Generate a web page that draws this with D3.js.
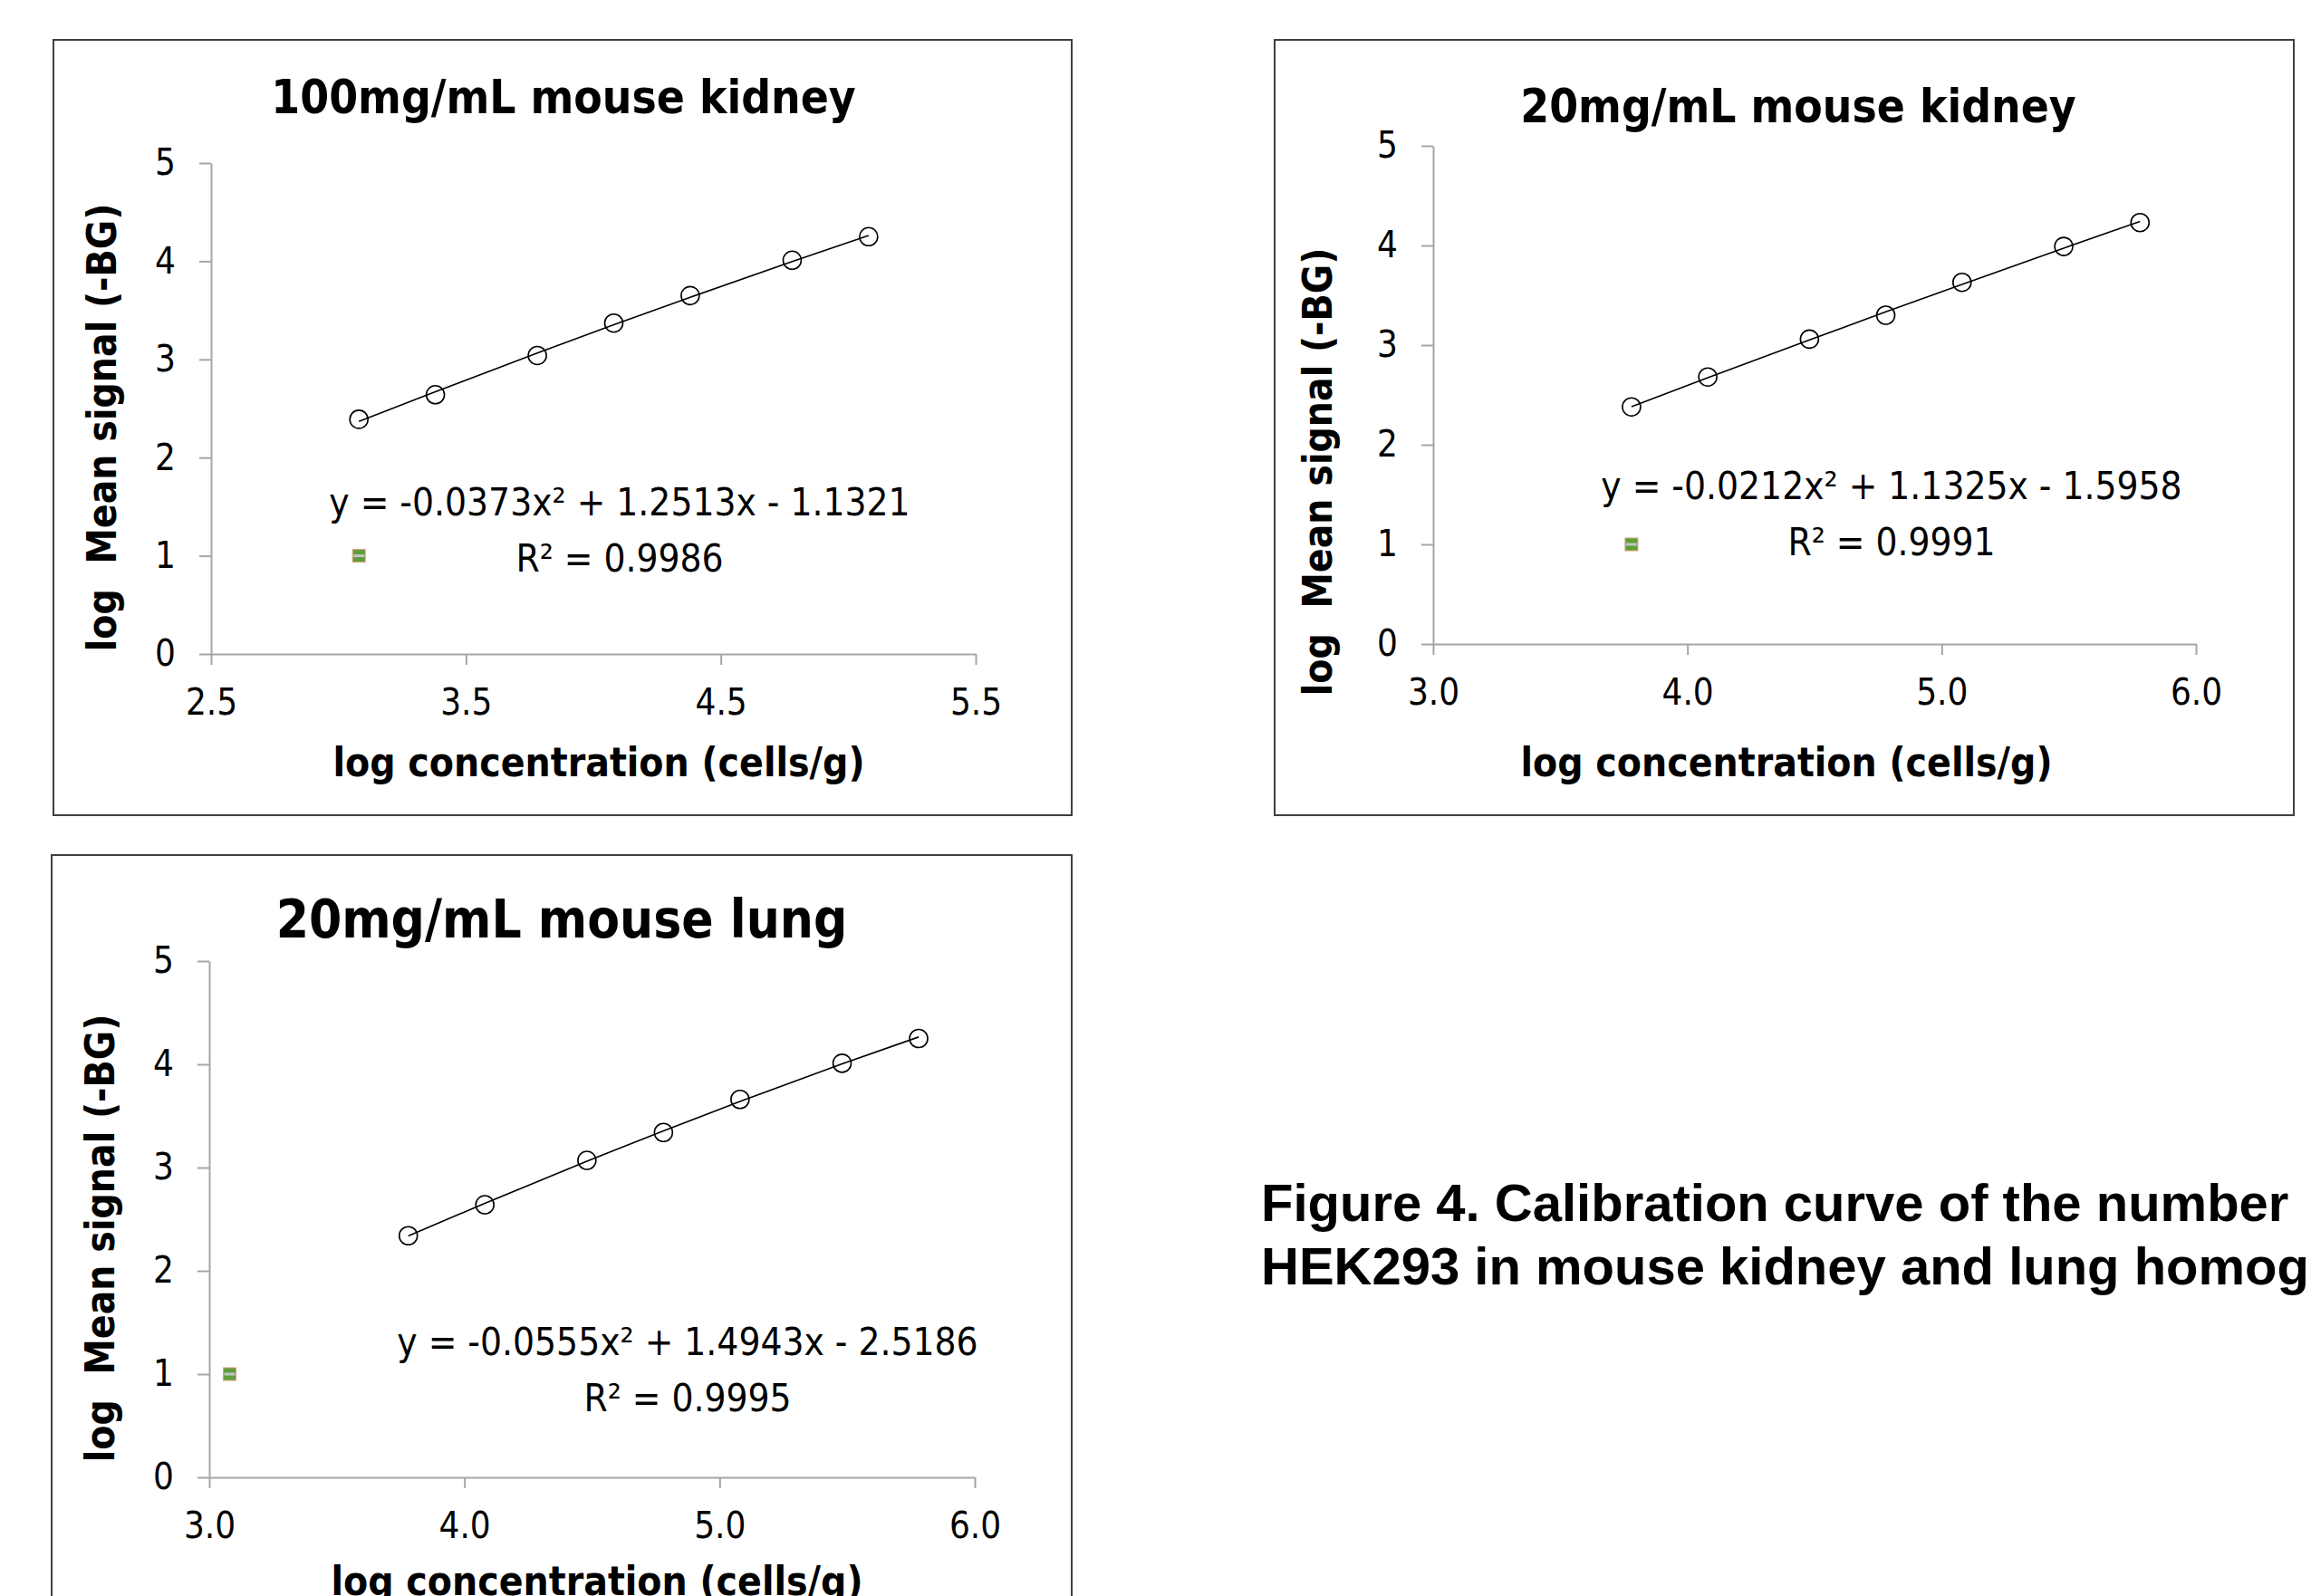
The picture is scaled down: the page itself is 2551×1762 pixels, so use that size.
<!DOCTYPE html>
<html>
<head>
<meta charset="utf-8">
<script src="https://cdn.jsdelivr.net/npm/d3@7"></script>
<style>
  html, body { margin: 0; padding: 0; background: #fff; overflow: hidden; }
  svg { display: block; }
</style>
</head>
<body>
<svg id="chart"></svg>
<script>
// values
const kidney100X = [3.08, 3.38, 3.78, 4.08, 4.38, 4.78, 5.08];
const kidney100Y = [2.39, 2.64, 3.04, 3.37, 3.65, 4.01, 4.25];
const kidney20X = [3.78, 4.08, 4.48, 4.78, 5.08, 5.48, 5.78];
const kidney20Y = [2.38, 2.68, 3.06, 3.30, 3.63, 3.99, 4.23];
const lung20X = [3.78, 4.08, 4.48, 4.78, 5.08, 5.48, 5.78];
const lung20Y = [2.34, 2.64, 3.07, 3.34, 3.66, 4.01, 4.25];

// polynomial trendline coefficients (a, b, c) printed on each plot
const kidney100Fit = [-0.0373, 1.2513, -1.1321];
const kidney20Fit = [-0.0212, 1.1325, -1.5958];
const lung20Fit = [-0.0555, 1.4943, -2.5186];
const r2Values = ['0.9986', '0.9991', '0.9995'];

// the stray green point each plot shows at y = 1
const strayX = [3.08, 3.78, 3.08];
const strayY = [1, 1, 1];

const titles = ['100mg/mL mouse kidney', '20mg/mL mouse kidney', '20mg/mL mouse lung'];

const xTicksA = [2.5, 3.5, 4.5, 5.5];
const xTicksB = [3.0, 4.0, 5.0, 6.0];
const yTicks = [0, 1, 2, 3, 4, 5];
const xDomains = [[2.5, 5.5], [3.0, 6.0], [3.0, 6.0]];
const yDomain = [0, 5];

const xTitle = 'log concentration (cells/g)';
const yTitle = 'log  Mean signal (-BG)';
const captionLines = [
  'Figure 4. Calibration curve of the number',
  'HEK293 in mouse kidney and lung homogenates'
];

const width = 2551;
const height = 1762;

// where each panel sits on the page
const layout = [
  { box: [59, 44, 1183, 900], xr: [233, 1077], yr: [722, 180], title: [622, 125, 51],
    eq: [684, 569, 631], xt: [661, 857], yt: [128, 472] },
  { box: [1407, 44, 2532, 900], xr: [1582, 2424], yr: [711, 161], title: [1985, 135, 51],
    eq: [2088, 551, 613], xt: [1972, 857], yt: [1470, 521] },
  { box: [57, 944, 1183, 1800], xr: [231, 1076], yr: [1631, 1061], title: [620, 1035, 58],
    eq: [759, 1496, 1558], xt: [659, 1761], yt: [126, 1367] }
];

const seriesX = [kidney100X, kidney20X, lung20X];
const seriesY = [kidney100Y, kidney20Y, lung20Y];
const fits = [kidney100Fit, kidney20Fit, lung20Fit];
const xTickSets = [xTicksA, xTicksB, xTicksB];

const svg = d3.select('#chart')
  .attr('width', width)
  .attr('height', height);

svg.append('rect')
  .attr('width', width)
  .attr('height', height)
  .attr('fill', '#fff');

const cond = 'DejaVu Sans Condensed, DejaVu Sans, sans-serif';
const axisGrey = '#a6a6a6';

function fmtCoef(v) {
  return Math.abs(v).toFixed(4);
}

layout.forEach((L, i) => {
  const g = svg.append('g');

  // panel frame
  g.append('rect')
    .attr('x', L.box[0])
    .attr('y', L.box[1])
    .attr('width', L.box[2] - L.box[0])
    .attr('height', L.box[3] - L.box[1])
    .attr('fill', 'none')
    .attr('stroke', '#3f3f3f')
    .attr('stroke-width', 2);

  const x = d3.scaleLinear().domain(xDomains[i]).range(L.xr);
  const y = d3.scaleLinear().domain(yDomain).range(L.yr);

  const xAxis = g.append('g')
    .attr('transform', `translate(0,${L.yr[0]})`)
    .call(d3.axisBottom(x).tickValues(xTickSets[i]).tickFormat(d3.format('.1f'))
      .tickSizeInner(12).tickSizeOuter(0).tickPadding(27));

  const yAxis = g.append('g')
    .attr('transform', `translate(${L.xr[0]},0)`)
    .call(d3.axisLeft(y).tickValues(yTicks).tickFormat(d3.format('d'))
      .tickSizeInner(13).tickSizeOuter(0).tickPadding(26));

  [xAxis, yAxis].forEach(ax => {
    ax.select('.domain').attr('stroke', axisGrey).attr('stroke-width', 2);
    ax.selectAll('.tick line').attr('stroke', axisGrey).attr('stroke-width', 2);
    ax.selectAll('.tick text')
      .attr('fill', '#000')
      .style('font-family', cond)
      .style('font-size', '40px');
  });

  // polynomial trendline, evaluated at the measured x values
  const [a, b, c] = fits[i];
  const fitPts = seriesX[i].map(v => [v, a * v * v + b * v + c]);
  g.append('path')
    .datum(fitPts)
    .attr('fill', 'none')
    .attr('stroke', '#000')
    .attr('stroke-width', 1.6)
    .attr('d', d3.line().x(d => x(d[0])).y(d => y(d[1])).curve(d3.curveMonotoneX));

  const pts = seriesX[i].map((v, k) => [v, seriesY[i][k]]);
  g.selectAll('circle.pt')
    .data(pts)
    .enter()
    .append('circle')
    .attr('class', 'pt')
    .attr('cx', d => x(d[0]))
    .attr('cy', d => y(d[1]))
    .attr('r', 10)
    .attr('fill', 'none')
    .attr('stroke', '#000')
    .attr('stroke-width', 1.6);

  // small green square marker
  const sx = x(strayX[i]);
  const sy = y(strayY[i]);
  g.append('rect')
    .attr('x', sx - 7)
    .attr('y', sy - 7)
    .attr('width', 14)
    .attr('height', 14)
    .attr('fill', '#5e9e3c')
    .attr('stroke', '#d9a27a')
    .attr('stroke-width', 1);
  g.append('rect')
    .attr('x', sx - 6)
    .attr('y', sy - 1.5)
    .attr('width', 12)
    .attr('height', 3)
    .attr('fill', '#c4c4c4');

  // title
  g.append('text')
    .attr('x', L.title[0])
    .attr('y', L.title[1])
    .attr('text-anchor', 'middle')
    .style('font-family', cond)
    .style('font-weight', 'bold')
    .style('font-size', L.title[2] + 'px')
    .text(titles[i]);

  // fit equation
  const eqText = `y = ${a < 0 ? '-' : ''}${fmtCoef(a)}x\u00b2 ${b < 0 ? '-' : '+'} ${fmtCoef(b)}x ${c < 0 ? '-' : '+'} ${fmtCoef(c)}`;
  g.append('text')
    .attr('x', L.eq[0])
    .attr('y', L.eq[1])
    .attr('text-anchor', 'middle')
    .style('font-family', cond)
    .style('font-size', '42px')
    .text(eqText);
  g.append('text')
    .attr('x', L.eq[0])
    .attr('y', L.eq[2])
    .attr('text-anchor', 'middle')
    .style('font-family', cond)
    .style('font-size', '42px')
    .text('R\u00b2 = ' + r2Values[i]);

  // axis titles
  g.append('text')
    .attr('x', L.xt[0])
    .attr('y', L.xt[1])
    .attr('text-anchor', 'middle')
    .style('font-family', cond)
    .style('font-weight', 'bold')
    .style('font-size', '44px')
    .text(xTitle);

  g.append('text')
    .attr('transform', `translate(${L.yt[0]},${L.yt[1]}) rotate(-90)`)
    .attr('text-anchor', 'middle')
    .style('font-family', cond)
    .style('font-weight', 'bold')
    .style('font-size', '44px')
    .style('white-space', 'pre')
    .text(yTitle);
});

// figure caption, runs off the right edge like the source
const caption = svg.append('text')
  .style('font-family', 'Liberation Sans, Arial, sans-serif')
  .style('font-weight', 'bold')
  .style('font-size', '58px');
captionLines.forEach((line, k) => {
  caption.append('tspan')
    .attr('x', 1392)
    .attr('y', 1348 + k * 70)
    .text(line);
});
</script>
</body>
</html>
